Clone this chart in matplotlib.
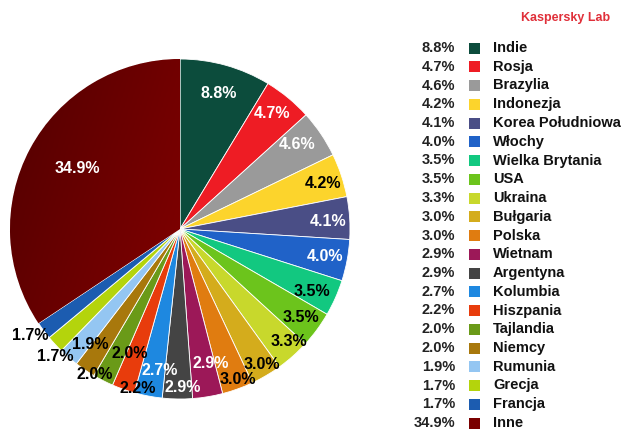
import numpy as np
import matplotlib
matplotlib.use("Agg")
import matplotlib.pyplot as plt
from matplotlib.patches import Rectangle
from matplotlib.colors import LinearSegmentedColormap

plt.rcParams['font.family'] = ['Liberation Sans', 'DejaVu Sans']

# udzial krajow w spamie (%)
countries = ["Indie", "Rosja", "Brazylia", "Indonezja", "Korea Południowa",
             "Włochy", "Wielka Brytania", "USA", "Ukraina", "Bułgaria",
             "Polska", "Wietnam", "Argentyna", "Kolumbia", "Hiszpania",
             "Tajlandia", "Niemcy", "Rumunia", "Grecja", "Francja", "Inne"]
shares = [8.8, 4.7, 4.6, 4.2, 4.1, 4.0, 3.5, 3.5, 3.3, 3.0, 3.0,
          2.9, 2.9, 2.7, 2.2, 2.0, 2.0, 1.9, 1.7, 1.7, 34.9]

slice_colors = ["#0c4c3c", "#ee1c24", "#9a9a9a", "#fcd42c", "#4a4e86",
                "#2062c8", "#12c880", "#6cc41c", "#c8d82c", "#d4ac1c",
                "#e07c10", "#9c1858", "#444444", "#1e88e0", "#e83c0c",
                "#6a9a18", "#a8780c", "#94c6f2", "#b4d40c", "#1c5cb0",
                "#7a0000"]
white_text = {"Indie", "Rosja", "Brazylia", "Korea Południowa", "Włochy",
              "Wietnam", "Argentyna", "Kolumbia", "Inne"}
# polozenie etykiet: odleglosc od srodka (w promieniach) i przesuniecie katowe (stopnie)
label_r = [0.83, 0.87, 0.85, 0.88, 0.87, 0.87, 0.86, 0.88, 0.92, 0.93, 0.95,
           0.81, 0.93, 0.84, 0.97, 0.79, 0.99, 0.86, 1.05, 1.08, 0.70]
label_da = [-0.5, 0.8, 1.7, -0.8, -1.0, 0.0, -1.3, 0.0, 2.4, 0.8, 1.1,
            3.6, 2.0, 2.8, 4.5, 5.1, 3.6, 2.9, 2.8, -1.2, -2.4]

W, H = 622, 430
fig = plt.figure(figsize=(W / 100, H / 100), dpi=100)

# os wykresu kolowego: srodek (180, 229) px, promien 170 px
cx, cy, R, lim = 180, 229, 170, 1.1
ax = fig.add_axes([(cx - lim * R) / W, 1 - (cy + lim * R) / H,
                   2 * lim * R / W, 2 * lim * R / H])
wedges, _ = ax.pie(shares, colors=slice_colors, startangle=90,
                   counterclock=False,
                   wedgeprops=dict(edgecolor="white", linewidth=0.6))

# gradient na wycinku "Inne"
cmap = LinearSegmentedColormap.from_list("inne", ["#520000", "#7c0000", "#980000"])
gx, gy = np.meshgrid(np.linspace(0, 1, 200), np.linspace(0, 1, 200))
grad = 0.75 * gx + 0.25 * gy
im = ax.imshow(grad, cmap=cmap, extent=[-1, 1, -1, 1], origin="upper",
               zorder=wedges[-1].get_zorder() + 0.1, interpolation="bilinear")
im.set_clip_path(wedges[-1])
ax.set_xlim(-lim, lim)
ax.set_ylim(-lim, lim)
ax.set_aspect("auto")

for w, name, val, r, da in zip(wedges, countries, shares, label_r, label_da):
    ang = np.deg2rad((w.theta1 + w.theta2) / 2 + da)
    ax.text(r * np.cos(ang), r * np.sin(ang), f"{val:.1f}%",
            ha="center", va="center", fontsize=11.5, fontweight="bold",
            color="white" if name in white_text else "black", zorder=10)

# legenda
y0, dy = 48, 18.75
for i, (name, val, col) in enumerate(zip(countries, shares, slice_colors)):
    y = 1 - (y0 + i * dy) / H
    fig.text(455 / W, y, f"{val:.1f}%", ha="right", va="center",
             fontsize=10.5, fontweight="bold", color="#222222")
    fig.patches.append(Rectangle((469 / W, y - 5.5 / H), 11 / W, 11 / H,
                                 transform=fig.transFigure, facecolor=col,
                                 edgecolor="none"))
    fig.text(493 / W, y, name, ha="left", va="center",
             fontsize=10.5, fontweight="bold", color="#111111")

fig.text(610 / W, 1 - 18 / H, "Kaspersky Lab", ha="right", va="center",
         fontsize=9, fontweight="bold", color="#e0303a")

fig.savefig("out.png", dpi=100)
